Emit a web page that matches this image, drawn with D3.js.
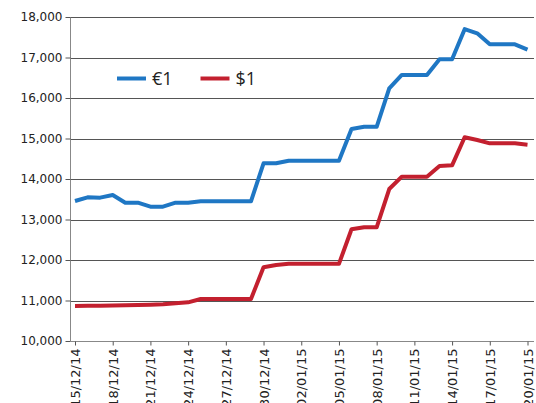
<!DOCTYPE html>
<html>
<head>
<meta charset="utf-8">
<script src="https://cdn.jsdelivr.net/npm/d3@7"></script>
<style>
  body { margin: 0; background: #fff; }
  svg { display: block; }
</style>
</head>
<body>
<div id="chart"></div>
<script>
// daily dates 15/12/14 .. 20/01/15
var dates = d3.timeDays(new Date(2014, 11, 15), new Date(2015, 0, 21));

var euroValues = [13457, 13548, 13540, 13605, 13415, 13415, 13317, 13317, 13415, 13415,
                  13450, 13450, 13450, 13450, 13450, 14387, 14387, 14452, 14452, 14452,
                  14452, 14452, 15235, 15290, 15290, 16240, 16568, 16568, 16568, 16955,
                  16955, 17700, 17597, 17325, 17325, 17325, 17195];

var dollarValues = [10864, 10868, 10872, 10877, 10882, 10888, 10895, 10905, 10930, 10955,
                    11037, 11037, 11037, 11037, 11037, 11820, 11877, 11905, 11905, 11905,
                    11905, 11905, 12758, 12807, 12807, 13753, 14057, 14057, 14057, 14321,
                    14338, 15030, 14963, 14880, 14880, 14880, 14847];

var seriesNames = ['€1', '$1'];
var seriesColors = ['#1f77c4', '#c3202f'];
var yTicks = [10000, 11000, 12000, 13000, 14000, 15000, 16000, 17000, 18000];

var chart_w = 536, chart_h = 403;
var plotLeft = 70.5, plotRight = 534, plotTop = 17, plotBottom = 341;

var svg = d3.select('#chart').append('svg')
    .attr('width', chart_w)
    .attr('height', chart_h);

var x = d3.scaleTime()
    .domain([dates[0], dates[dates.length - 1]])
    .range([75, 527.5]);

var y = d3.scaleLinear()
    .domain([10000, 18000])
    .range([plotBottom, plotTop]);

// gridlines
svg.append('g')
    .selectAll('line')
    .data(yTicks.slice(1))
    .enter()
    .append('line')
    .attr('x1', plotLeft)
    .attr('x2', plotRight)
    .attr('y1', function(d){ return Math.round(y(d)) + 0.5; })
    .attr('y2', function(d){ return Math.round(y(d)) + 0.5; })
    .attr('stroke', '#555')
    .attr('stroke-width', 1);

// y axis
var yAxis = svg.append('g')
    .attr('transform', 'translate(' + plotLeft + ',0)')
    .call(d3.axisLeft(y)
        .tickValues(yTicks)
        .tickSize(5)
        .tickPadding(3)
        .tickFormat(d3.format(',')));
yAxis.select('.domain').attr('stroke', '#888').attr('d', 'M0,' + plotTop + 'V' + (plotBottom + 0.5));
yAxis.selectAll('.tick line').attr('stroke', '#555');
yAxis.selectAll('text')
    .attr('font-family', 'DejaVu Sans')
    .attr('font-size', 12)
    .attr('fill', '#222');

// x axis
var xAxis = svg.append('g')
    .attr('transform', 'translate(0,' + (plotBottom + 0.5) + ')')
    .call(d3.axisBottom(x)
        .tickValues(dates.filter(function(d,i){ return i % 3 === 0; }))
        .tickSize(4)
        .tickFormat(d3.timeFormat('%d/%m/%y')));
xAxis.select('.domain').attr('stroke', '#888').attr('d', 'M' + plotLeft + ',0H' + plotRight);
xAxis.selectAll('.tick line').attr('stroke', '#555');
xAxis.selectAll('text')
    .attr('font-family', 'DejaVu Sans')
    .attr('font-size', 13)
    .attr('fill', '#222')
    .attr('text-anchor', 'end')
    .attr('transform', 'rotate(-90)')
    .attr('x', -7)
    .attr('y', 0)
    .attr('dy', '0.35em');

// lines
var line = d3.line()
    .x(function(d,i){ return x(dates[i]); })
    .y(function(d){ return y(d); });

[euroValues, dollarValues].forEach(function(vals, k){
    svg.append('path')
        .datum(vals)
        .attr('d', line)
        .attr('fill', 'none')
        .attr('stroke', seriesColors[k])
        .attr('stroke-width', 4)
        .attr('stroke-linejoin', 'round');
});

// legend
var legend = svg.append('g');
seriesNames.forEach(function(name, k){
    var lx = 117 + k * 83.5;
    legend.append('line')
        .attr('x1', lx)
        .attr('x2', lx + 29)
        .attr('y1', 78.5)
        .attr('y2', 78.5)
        .attr('stroke', seriesColors[k])
        .attr('stroke-width', 4);
    legend.append('text')
        .attr('x', lx + 35)
        .attr('y', 84.5)
        .attr('font-family', 'Open Sans')
        .attr('font-size', 18)
        .attr('fill', '#222')
        .text(name);
});
</script>
</body>
</html>
